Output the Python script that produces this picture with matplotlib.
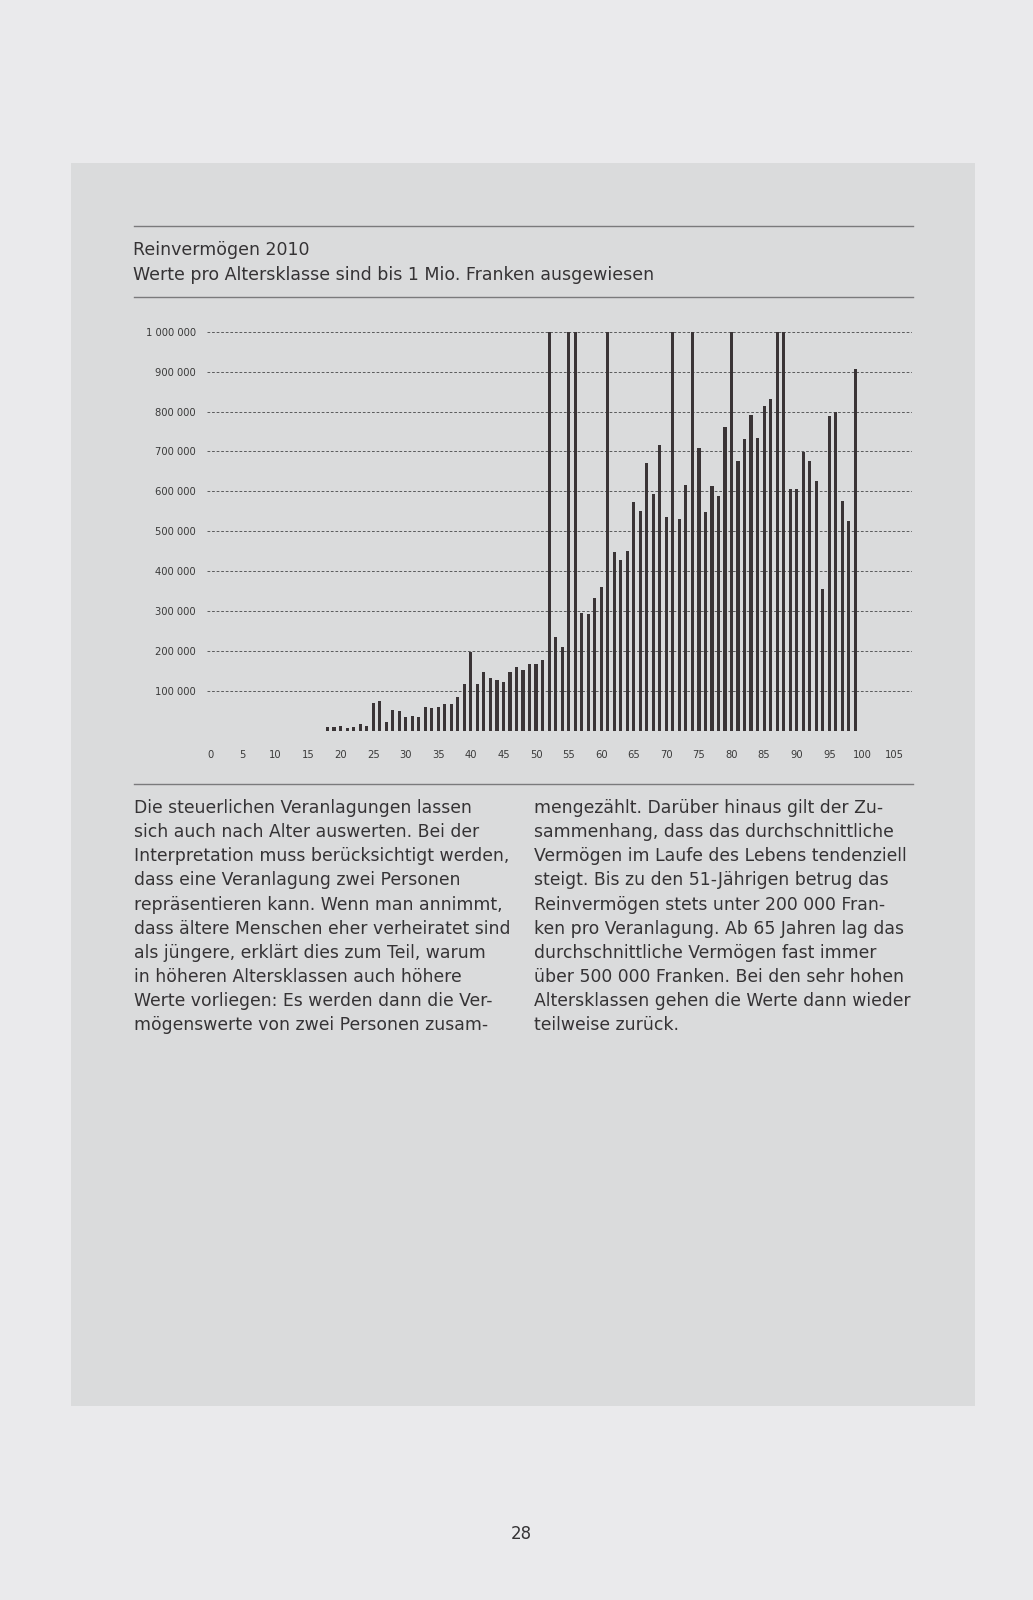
import numpy as np
import matplotlib
matplotlib.use('Agg')
import matplotlib.pyplot as plt
from matplotlib.patches import Rectangle
from matplotlib.lines import Line2D

# net wealth per tax assessment by age class (CHF), bars above 1 Mio are cut at 1 Mio
ages = list(range(18, 100))
wealth = [9000, 9000, 13000, 7000, 9000, 17000, 13000, 70000, 74000, 21000,
          52000, 49000, 35000, 38000, 35000, 59000, 56000, 59000, 67000, 67000,
          84000, 118000, 197000, 118000, 146000, 131000, 128000, 121000, 146000, 159000,
          153000, 167000, 167000, 177000, 1000000, 236000, 211000, 1000000, 1000000, 296000,
          292000, 333000, 361000, 1000000, 447000, 429000, 451000, 573000, 551000, 670000,
          594000, 717000, 536000, 1000000, 530000, 617000, 1000000, 709000, 548000, 613000,
          587000, 760000, 1000000, 677000, 731000, 791000, 734000, 814000, 831000, 1000000,
          1000000, 605000, 605000, 698000, 677000, 627000, 354000, 788000, 800000, 576000,
          526000, 906000]

y_ticks = [0, 100000, 200000, 300000, 400000, 500000, 600000, 700000, 800000, 900000, 1000000]
y_labels = ['', '100 000', '200 000', '300 000', '400 000', '500 000',
            '600 000', '700 000', '800 000', '900 000', '1 000 000']
x_ticks = list(range(0, 110, 5))

title = 'Reinvermögen 2010'
subtitle = 'Werte pro Altersklasse sind bis 1 Mio. Franken ausgewiesen'

left_col = [
    'Die steuerlichen Veranlagungen lassen',
    'sich auch nach Alter auswerten. Bei der',
    'Interpretation muss berücksichtigt werden,',
    'dass eine Veranlagung zwei Personen',
    'repräsentieren kann. Wenn man annimmt,',
    'dass ältere Menschen eher verheiratet sind',
    'als jüngere, erklärt dies zum Teil, warum',
    'in höheren Altersklassen auch höhere',
    'Werte vorliegen: Es werden dann die Ver-',
    'mögenswerte von zwei Personen zusam-',
]
right_col = [
    'mengezählt. Darüber hinaus gilt der Zu-',
    'sammenhang, dass das durchschnittliche',
    'Vermögen im Laufe des Lebens tendenziell',
    'steigt. Bis zu den 51-Jährigen betrug das',
    'Reinvermögen stets unter 200 000 Fran-',
    'ken pro Veranlagung. Ab 65 Jahren lag das',
    'durchschnittliche Vermögen fast immer',
    'über 500 000 Franken. Bei den sehr hohen',
    'Altersklassen gehen die Werte dann wieder',
    'teilweise zurück.',
]

W, H = 1033, 1600
fig = plt.figure(figsize=(W / 100, H / 100), dpi=100)
fig.patch.set_facecolor('#eaeaec')

# grey page panel, kept behind the chart
fig.patches.append(Rectangle((70.7 / W, 1 - 1406 / H), (975 - 70.7) / W, (1406 - 162.7) / H,
                             transform=fig.transFigure, facecolor='#dadbdc', edgecolor='none', zorder=-5))

def fx(px):
    return px / W

def fy(py):
    return 1 - py / H

text_col = '#353335'
rule_col = '#7a7a7c'

# rules around the heading and below the chart
for y in [226, 297.3, 784.5]:
    fig.lines.append(Line2D([fx(134), fx(913)], [fy(y), fy(y)], transform=fig.transFigure,
                            color=rule_col, lw=1.0, zorder=-1))

font = ['DejaVu Sans']
fig.text(fx(133), fy(255), title, fontsize=12.5, family=font, color=text_col, va='baseline')
fig.text(fx(133), fy(279.5), subtitle, fontsize=12.5, family=font, color=text_col, va='baseline')

# chart
ax = fig.add_axes([fx(207), fy(730.7), fx(912) - fx(207), fy(331.7) - fy(730.7)])
ax.set_facecolor('none')
ax.bar(ages, wealth, width=0.48, color='#3a3436', zorder=3)
ax.set_xlim(-0.5, 107.7)
ax.set_ylim(0, 1000000)
ax.set_yticks(y_ticks)
ax.set_yticklabels(y_labels)
ax.set_xticks(x_ticks)
ax.set_xticklabels([str(t) for t in x_ticks])
ax.tick_params(axis='both', length=0, labelsize=7.2, labelcolor='#3a3a3a')
ax.tick_params(axis='y', pad=8)
ax.tick_params(axis='x', pad=14)
for sp in ax.spines.values():
    sp.set_visible(False)
for yv in y_ticks:
    ax.axhline(yv, color='#5a5a5c', lw=0.7, linestyle=(0, (2.8, 1.9)), zorder=1)

# body text, two columns
for i, line in enumerate(left_col):
    fig.text(fx(134), fy(813 + 24.15 * i), line, fontsize=12.4, family=font,
             color=text_col, va='baseline')
for i, line in enumerate(right_col):
    fig.text(fx(534), fy(813 + 24.15 * i), line, fontsize=12.4, family=font,
             color=text_col, va='baseline')

fig.text(fx(521), fy(1534), '28', fontsize=12, family=font, color=text_col,
         ha='center', va='center')

fig.savefig('out.png', dpi=100, facecolor=fig.get_facecolor())
